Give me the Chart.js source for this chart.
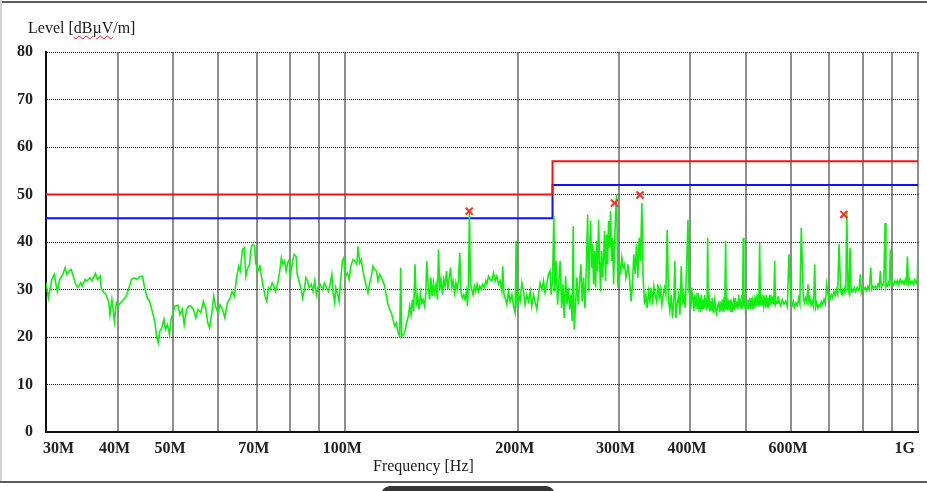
<!DOCTYPE html>
<html>
<head>
<meta charset="utf-8">
<script src="https://cdn.jsdelivr.net/npm/chart.js@4.4.1/dist/chart.umd.min.js"></script>
<style>
html,body{margin:0;padding:0;background:#fff;}
#wrap{position:relative;width:927px;height:491px;overflow:hidden;background:#fff;}
#c{position:absolute;left:0;top:0;}
.fTop{position:absolute;left:0;top:1px;width:927px;height:2px;background:#5c5c5c;}
.fLeft{position:absolute;left:0;top:0;width:2px;height:483px;background:#d4d4d4;}
.fBottom{position:absolute;left:0;top:481px;width:927px;height:2px;background:#5c5c5c;}
.pill{position:absolute;left:381px;top:486px;width:174px;height:12px;background:#353535;border-radius:9px 9px 0 0;}
.t{position:absolute;font-family:"Liberation Serif","Times New Roman",serif;font-size:16px;line-height:16px;color:#1a1a1a;white-space:nowrap;}
.sq{text-decoration:underline wavy #e02020;text-decoration-thickness:1px;text-underline-offset:2px;}
</style>
</head>
<body>
<div id="wrap">
  <canvas id="c" width="927" height="491"></canvas>
  <div class="fTop"></div>
  <div class="fLeft"></div>
  <div class="fBottom"></div>
  <div class="pill"></div>
  <div class="t" style="left:28px;top:20px;">Level [<span class="sq">dBµV</span>/m]</div>
  <div class="t" style="left:373px;top:458px;">Frequency [Hz]</div>
</div>
<script>
// Measured trace: frequency (MHz) and level (dBµV/m)
const freqMHz = [
30.0,30.3,30.7,31.0,31.4,31.7,32.1,32.4,32.6,32.9,
33.2,33.4,33.8,34.1,34.5,34.7,35.1,35.4,35.8,36.1,
36.6,36.9,37.3,37.5,37.9,38.2,38.6,38.8,39.1,39.3,
39.5,39.8,40.1,40.5,41.0,41.4,41.9,42.3,42.8,43.2,
43.7,44.2,44.6,45.1,45.5,46.0,46.5,46.8,47.1,47.4,
47.8,48.2,48.5,48.9,49.3,49.6,49.9,50.4,51.0,51.4,
51.9,52.3,52.8,53.3,53.7,54.3,54.8,55.3,55.9,56.5,
57.0,57.5,57.9,58.4,58.9,59.3,59.9,60.4,61.0,61.6,
62.2,62.9,63.4,64.0,64.5,65.1,65.5,66.1,66.6,67.0,
67.4,68.0,68.5,69.0,69.4,69.7,70.4,70.9,71.4,71.9,
72.4,72.9,73.4,73.9,74.5,75.0,75.5,76.2,76.8,77.3,
77.8,78.3,78.8,79.3,79.8,80.2,80.9,81.4,82.0,82.4,
83.0,83.7,84.2,84.8,85.3,85.9,86.4,87.2,87.8,88.4,
89.0,89.7,90.4,91.3,91.9,92.7,93.4,94.0,94.7,95.2,
95.8,96.2,96.8,97.5,98.1,98.8,99.4,100.1,100.8,101.5,
102.2,103.1,103.9,104.7,105.2,105.9,106.6,107.3,108.1,108.8,
109.5,110.3,111.0,111.7,112.5,113.3,114.0,114.8,115.6,116.3,
117.1,117.9,118.7,119.5,120.3,121.1,121.9,122.8,123.6,124.4,
124.9,125.4,126.3,127.1,127.9,128.8,129.5,130.2,130.9,131.6,
132.3,133.0,133.7,134.5,135.2,136.0,136.7,137.5,138.2,138.7,
139.5,140.3,141.0,141.7,142.5,143.2,144.0,144.8,145.4,146.2,
146.9,147.8,148.5,149.3,150.2,151.0,151.8,152.6,153.4,154.2,
155.1,155.9,156.7,157.6,158.4,159.2,160.1,161.0,161.8,162.7,
163.4,164.0,164.7,165.3,166.2,167.1,168.0,168.9,169.8,170.8,
171.7,172.6,173.6,174.7,175.9,176.6,177.8,178.9,180.2,181.4,
182.6,183.8,185.1,186.3,187.6,188.3,189.1,190.1,191.4,192.7,
193.9,195.3,196.6,197.9,198.7,199.5,200.6,201.9,203.3,204.7,
206.0,207.4,208.8,210.2,211.6,213.1,214.4,215.9,217.4,218.8,
220.3,221.8,223.2,224.7,226.3,227.7,228.7,230.0,231.2,232.1,
233.4,234.7,235.9,237.2,238.5,239.8,241.0,242.4,243.7,245.0,
246.4,247.6,248.9,249.9,250.9,252.3,253.7,255.0,256.4,257.8,
259.1,260.6,262.0,263.4,264.9,265.9,267.0,268.1,269.2,270.2,
271.3,272.4,273.5,274.6,275.7,276.8,277.9,279.0,280.2,281.3,
282.4,283.6,284.7,285.9,287.0,288.2,289.3,290.5,291.7,292.9,
294.0,295.2,296.4,297.6,299.2,300.7,302.4,304.0,305.6,307.3,
308.9,310.5,311.3,313.4,315.5,317.2,318.9,320.6,322.4,324.1,
325.8,327.6,329.4,331.1,333.0,334.7,336.5,338.4,340.2,342.0,
343.9,345.7,347.5,349.5,351.3,353.2,355.2,357.0,358.9,360.9,
362.8,364.7,366.8,368.7,370.6,372.7,374.7,376.2,377.7,379.7,
381.9,383.9,385.9,388.1,390.1,392.2,394.4,396.5,398.1,400.2,
401.3,402.5,403.5,404.6,406.0,407.4,408.7,410.0,411.4,412.8,
414.2,415.6,417.0,418.3,419.8,421.2,422.6,424.1,425.5,426.8,
428.0,429.2,430.3,431.5,433.0,434.4,435.8,437.2,438.7,440.2,
441.7,443.2,444.6,446.1,447.6,449.1,450.6,452.2,453.6,455.1,
456.7,458.3,459.8,461.4,462.6,463.8,465.4,467.0,468.5,470.0,
471.6,473.2,474.8,476.5,478.0,479.6,481.2,482.9,484.5,486.2,
487.7,489.3,491.0,492.7,494.0,495.2,496.6,498.0,499.6,501.2,
503.0,504.7,506.4,508.1,509.7,511.4,513.1,514.9,516.6,518.4,
520.1,521.8,523.6,525.4,527.2,529.0,530.7,532.4,534.2,536.1,
537.9,539.8,541.5,543.3,545.1,547.0,548.9,550.8,552.5,554.3,
556.2,558.1,560.0,562.0,563.8,565.6,567.5,569.5,571.8,575.6,
579.4,583.4,587.4,591.3,595.2,599.3,602.4,605.6,608.9,612.2,
615.5,618.9,621.8,625.4,630.4,633.5,636.6,639.5,642.5,645.1,
647.7,650.7,653.7,656.9,660.1,662.7,665.4,668.5,671.6,674.7,
677.8,681.5,685.2,688.9,692.7,697.2,701.4,705.7,709.5,713.4,
716.7,720.0,724.0,727.9,732.9,736.3,739.7,742.7,745.7,748.2,
750.8,754.8,757.8,760.9,764.0,767.0,770.6,774.2,778.4,782.7,
785.8,789.0,793.1,796.3,799.5,803.9,808.3,812.7,817.1,822.0,
827.0,830.3,833.7,838.1,842.5,847.1,851.7,855.6,859.6,863.1,
866.6,871.3,876.0,879.0,882.0,884.8,887.7,891.3,894.9,898.5,
902.2,906.5,910.9,915.7,920.5,925.5,930.5,935.6,940.7,945.6,
950.6,954.4,958.3,962.1,966.0,971.1,976.2,981.9,987.6,992.4,
997.2,1000
];
const levelDb = [
31.4,28.2,32.1,33.2,29.6,32.1,33.2,34.6,33.2,33.9,
34.2,33.2,31.1,30.4,31.4,30.7,32.1,31.8,32.5,31.8,
33.4,32.1,32.8,30.0,29.3,28.9,27.5,24.7,27.9,25.8,
23.3,27.2,26.5,27.2,27.9,28.6,30.4,32.1,32.5,32.1,
32.7,32.8,30.4,28.2,27.5,25.4,23.0,20.2,18.8,21.2,
21.9,23.7,21.6,22.6,20.5,23.7,24.7,26.5,26.7,24.7,
25.8,22.6,25.8,26.5,26.5,25.8,24.0,25.8,25.1,27.5,
26.1,23.0,21.9,24.7,28.6,26.5,25.1,26.8,25.8,24.0,
27.2,28.2,29.6,28.6,32.1,34.9,33.9,38.4,38.8,32.8,
34.2,35.3,39.1,39.5,39.1,35.6,33.9,34.9,32.5,30.4,
28.6,27.5,30.4,30.0,31.4,30.7,29.6,31.4,33.9,36.7,
35.3,36.0,33.9,35.6,36.3,33.2,36.0,37.4,37.0,33.2,
31.8,30.0,28.2,30.0,32.5,31.8,30.4,31.1,29.6,31.8,
28.9,30.7,31.1,30.0,31.4,30.4,29.6,31.1,33.2,29.3,
27.2,30.4,29.3,27.5,31.8,36.0,36.7,32.8,33.5,32.1,
34.9,36.3,36.0,35.3,39.1,35.6,36.3,33.9,32.1,30.7,
29.3,31.4,32.8,34.9,34.2,33.9,31.8,33.2,32.5,31.8,
30.7,28.6,26.8,25.8,25.1,23.7,22.3,23.0,20.9,20.2,
34.6,20.2,20.5,21.2,23.0,24.4,26.5,24.7,27.9,25.4,
35.3,26.5,28.6,25.8,29.3,27.2,27.9,26.5,29.3,36.0,
30.7,27.9,32.5,28.6,31.4,29.3,31.1,27.9,38.4,30.0,
32.1,28.9,32.1,30.7,33.9,30.0,32.5,34.6,30.4,31.8,
29.3,31.4,30.0,32.1,37.7,29.3,28.2,28.9,27.9,29.6,
26.5,31.4,46.5,31.4,30.0,28.9,30.7,29.6,31.1,29.6,
30.7,30.0,31.1,30.4,31.8,31.1,32.8,32.1,31.8,33.5,
31.8,32.8,31.1,31.8,29.6,34.9,29.3,28.2,26.8,29.6,
27.5,28.9,26.5,25.1,40.2,26.1,28.9,27.5,31.4,29.6,
26.8,28.9,27.5,29.6,26.5,28.9,27.5,25.8,28.9,31.4,
30.0,31.8,29.3,31.1,33.2,33.9,28.9,31.8,45.4,29.6,
36.0,26.8,31.8,36.0,26.1,31.1,24.0,32.8,26.8,30.4,
25.8,28.9,23.3,43.3,21.6,26.8,32.5,26.8,31.1,35.3,
27.5,32.5,26.1,33.9,45.8,29.6,38.8,44.4,34.6,39.5,
31.1,38.1,30.4,40.2,33.9,44.7,36.0,29.6,38.1,32.5,
36.7,42.3,31.8,41.6,35.3,44.4,38.8,46.5,36.0,40.9,
31.1,39.5,46.0,50.0,30.4,36.0,33.2,36.7,34.6,35.3,
32.5,33.9,35.3,32.5,27.5,31.1,37.4,33.2,39.5,32.5,
40.9,36.0,48.2,32.5,26.8,28.9,26.1,29.6,27.5,30.4,
26.8,30.7,28.9,27.5,31.1,28.2,30.0,26.8,28.9,30.4,
28.9,42.6,27.5,25.4,28.9,24.0,28.2,36.0,24.0,26.8,
28.9,24.7,34.9,26.8,28.9,26.1,34.9,44.7,29.6,28.2,
26.0,30.4,28.6,27.5,25.5,28.9,27.0,28.2,26.0,29.3,
26.4,27.5,25.2,28.9,26.0,27.9,25.8,28.9,26.2,28.2,
25.6,40.9,26.2,28.9,25.4,27.5,25.6,28.2,25.3,26.8,
28.0,25.9,24.9,25.8,26.9,27.5,25.2,26.8,26.1,27.9,
25.5,27.5,26.8,40.2,25.9,28.2,25.6,27.2,26.3,27.9,
25.4,26.8,26.0,27.5,25.7,28.2,26.4,27.5,25.8,28.9,
26.9,27.5,26.0,28.9,26.5,40.9,26.2,28.9,25.7,26.8,
26.3,27.9,25.9,27.5,26.6,28.2,26.0,27.5,26.7,27.9,
26.2,28.2,26.9,28.9,26.4,39.8,26.6,28.2,26.8,28.9,
26.5,27.9,27.0,28.9,26.4,28.2,26.9,28.9,26.7,28.2,
27.2,28.6,26.8,36.0,26.9,27.5,27.1,28.6,27.5,26.6,
27.9,26.9,27.5,26.4,37.4,28.2,26.5,27.5,26.2,27.2,
26.6,28.2,27.0,43.0,28.6,27.2,28.2,27.3,31.1,27.4,
28.2,26.7,27.5,26.4,35.3,26.3,27.2,26.1,26.8,26.4,
27.5,26.8,27.9,27.0,31.1,28.6,27.8,28.9,28.2,29.6,
28.7,30.0,29.0,39.5,29.6,28.9,30.0,29.3,30.4,29.5,
46.5,30.0,29.2,38.8,29.4,30.0,29.6,30.4,29.5,30.4,
29.8,30.0,33.2,29.3,30.0,29.9,30.4,29.8,30.7,30.0,
34.6,30.1,30.7,30.3,30.7,30.2,31.1,30.6,33.9,30.5,
31.1,30.9,44.0,30.5,31.1,30.8,31.4,31.0,38.4,30.9,
31.4,31.0,31.8,31.2,31.9,31.0,32.1,31.3,31.8,31.1,
32.1,31.5,37.0,31.2,32.1,31.3,31.8,31.0,32.1,31.3,
31.8,38.4
];
// Limit lines (step at 230 MHz)
const limitFreq = [30, 230, 230, 1000];
const limitQP = [50, 50, 57, 57];
const limitAV = [45, 45, 52, 52];
// Final measurement markers
const markerFreq = [164.5, 295, 327, 742];
const markerLevel = [46.5, 48.2, 49.9, 45.8];
// Axis ticks
const gridFreq = [30,40,50,60,70,80,90,100,200,300,400,500,600,700,800,900,1000];
const tickFreq = [30,40,50,70,100,200,300,400,600,1000];
const tickLabels = ['30M','40M','50M','70M','100M','200M','300M','400M','600M','1G'];
const yMin = 0, yMax = 80, yStep = 10;

const pts = (xs, ys) => xs.map((x, i) => ({x: x, y: ys[i]}));
const serif = "'Liberation Serif','Times New Roman',serif";

new Chart(document.getElementById('c'), {
  type: 'scatter',
  data: {
    datasets: [
      {data: pts(markerFreq, markerLevel), showLine: false, pointStyle: 'crossRot',
       pointRadius: 5, borderColor: '#ff2a2a', backgroundColor: '#ff2a2a', borderWidth: 2},
      {data: pts(freqMHz, levelDb), showLine: true, borderColor: '#10ee10', borderWidth: 1.6,
       pointRadius: 0, tension: 0, fill: false},
      {data: pts(limitFreq, limitQP), showLine: true, borderColor: '#ff1010', borderWidth: 2,
       pointRadius: 0, tension: 0},
      {data: pts(limitFreq, limitAV), showLine: true, borderColor: '#1010ff', borderWidth: 2,
       pointRadius: 0, tension: 0}
    ]
  },
  options: {
    responsive: false,
    animation: false,
    events: [],
    layout: {padding: {left: 0, right: 9, top: 52, bottom: 0}},
    plugins: {legend: {display: false}, tooltip: {enabled: false}, title: {display: false}},
    scales: {
      x: {
        type: 'logarithmic', position: 'bottom', min: 30, max: 1000,
        afterBuildTicks: s => { s.ticks = gridFreq.map(v => ({value: v})); },
        afterFit: s => { s.height = 59; },
        ticks: {
          autoSkip: false, maxRotation: 0, minRotation: 0, align: 'inner', padding: 7, labelOffset: -3,
          color: '#222', font: {family: serif, size: 16, weight: 'bold'},
          callback: v => { const i = tickFreq.indexOf(v); return i >= 0 ? tickLabels[i] : ''; }
        },
        grid: {color: '#8e8e8e', lineWidth: 2, drawTicks: false},
        border: {color: '#111', width: 2}
      },
      y: {
        min: yMin, max: yMax,
        afterFit: s => { s.width = 46; },
        ticks: {stepSize: yStep, padding: 13, color: '#222', font: {family: serif, size: 16, weight: 'bold'}},
        grid: {color: '#1e1e1e', lineWidth: 1, drawTicks: false},
        border: {color: '#111', width: 2, dash: [1, 1]}
      }
    }
  }
});
</script>
</body>
</html>
